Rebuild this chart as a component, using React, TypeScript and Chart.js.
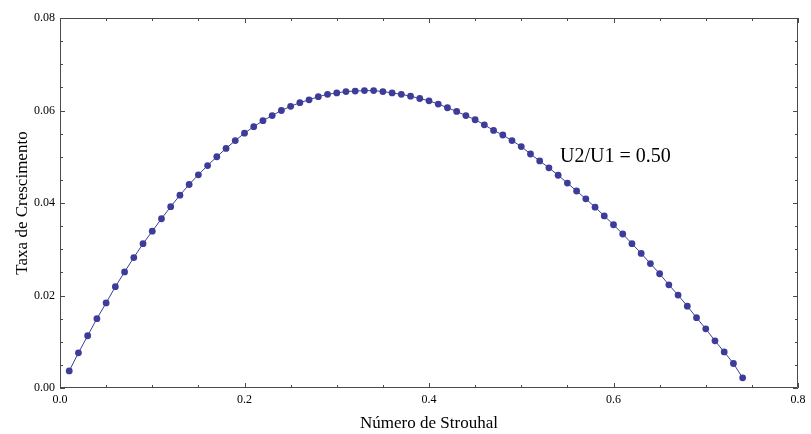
import React, { useEffect, useRef } from "react";
import { Chart, registerables } from "chart.js";

Chart.register(...registerables);

const strouhal = [
  0.01, 0.02, 0.03, 0.04, 0.05, 0.06, 0.07, 0.08, 0.09, 0.1,
  0.11, 0.12, 0.13, 0.14, 0.15, 0.16, 0.17, 0.18, 0.19, 0.2,
  0.21, 0.22, 0.23, 0.24, 0.25, 0.26, 0.27, 0.28, 0.29, 0.3,
  0.31, 0.32, 0.33, 0.34, 0.35, 0.36, 0.37, 0.38, 0.39, 0.4,
  0.41, 0.42, 0.43, 0.44, 0.45, 0.46, 0.47, 0.48, 0.49, 0.5,
  0.51, 0.52, 0.53, 0.54, 0.55, 0.56, 0.57, 0.58, 0.59, 0.6,
  0.61, 0.62, 0.63, 0.64, 0.65, 0.66, 0.67, 0.68, 0.69, 0.7,
  0.71, 0.72, 0.73, 0.74,
];

const growthRate = [
  0.0037, 0.0076, 0.0113, 0.015, 0.0184, 0.0219, 0.0251, 0.0282, 0.0312, 0.0339,
  0.0366, 0.0392, 0.0417, 0.044, 0.0461, 0.0481, 0.05, 0.0518, 0.0535, 0.0551,
  0.0565, 0.0578, 0.0589, 0.06, 0.0609, 0.0617, 0.0623, 0.063, 0.0635, 0.0638,
  0.0641, 0.0642, 0.0643, 0.0643, 0.0641, 0.0638, 0.0635, 0.0631, 0.0626, 0.0621,
  0.0614, 0.0606, 0.0598, 0.0589, 0.058, 0.0569, 0.0557, 0.0547, 0.0535, 0.0522,
  0.0506, 0.0491, 0.0476, 0.046, 0.0443, 0.0426, 0.0409, 0.0391, 0.0372, 0.0353,
  0.0333, 0.0312, 0.0291, 0.0269, 0.0247, 0.0223, 0.0201, 0.0177, 0.0152, 0.0128,
  0.0102, 0.0078, 0.0053, 0.0022,
];

const xMajorTicks = [0, 0.2, 0.4, 0.6, 0.8];
const xTickLabels = ["0.0", "0.2", "0.4", "0.6", "0.8"];
const yMajorTicks = [0, 0.02, 0.04, 0.06, 0.08];
const yTickLabels = ["0.00", "0.02", "0.04", "0.06", "0.08"];
const xMinorStep = 0.05;
const yMinorStep = 0.005;

const xTitle = "Número de Strouhal";
const yTitle = "Taxa de Crescimento";
const annotationText = "U2/U1 = 0.50";
const annotationX = 0.542;
const annotationY = 0.0501;

const SERIF = '"Liberation Serif", "Times New Roman", serif';
const SERIES_COLOR = "#3d3d99";
const FRAME_COLOR = "#4a4a4a";

const framePlugin = {
  id: "frameTicks",
  afterDraw(chart: any) {
    const { ctx, chartArea, scales } = chart;
    const xs = scales.x;
    const ys = scales.y;
    const { left, right, top, bottom } = chartArea;
    ctx.save();
    ctx.strokeStyle = FRAME_COLOR;
    ctx.lineWidth = 1;
    ctx.beginPath();
    ctx.rect(left + 0.5, top + 0.5, right - left - 1, bottom - top - 1);
    ctx.stroke();

    const majorLen = 5;
    const minorLen = 3;
    const isMajor = (v: number, arr: number[]) =>
      arr.some((m) => Math.abs(m - v) < 1e-9);

    ctx.beginPath();
    for (let i = 0; i <= Math.round((xs.max - xs.min) / xMinorStep); i++) {
      const v = xs.min + i * xMinorStep;
      const px = Math.round(xs.getPixelForValue(v)) + 0.5;
      const len = isMajor(v, xMajorTicks) ? majorLen : minorLen;
      ctx.moveTo(px, bottom);
      ctx.lineTo(px, bottom - len);
      ctx.moveTo(px, top);
      ctx.lineTo(px, top + len);
    }
    for (let i = 0; i <= Math.round((ys.max - ys.min) / yMinorStep); i++) {
      const v = ys.min + i * yMinorStep;
      const py = Math.round(ys.getPixelForValue(v)) + 0.5;
      const len = isMajor(v, yMajorTicks) ? majorLen : minorLen;
      ctx.moveTo(left, py);
      ctx.lineTo(left + len, py);
      ctx.moveTo(right, py);
      ctx.lineTo(right - len, py);
    }
    ctx.stroke();

    ctx.fillStyle = "#000";
    ctx.font = `20px ${SERIF}`;
    ctx.textAlign = "left";
    ctx.textBaseline = "middle";
    ctx.fillText(
      annotationText,
      xs.getPixelForValue(annotationX),
      ys.getPixelForValue(annotationY)
    );
    ctx.restore();
  },
};

export default function App() {
  const canvasRef = useRef<HTMLCanvasElement | null>(null);

  useEffect(() => {
    if (!canvasRef.current) return;
    const chart = new Chart(canvasRef.current, {
      type: "scatter",
      data: {
        datasets: [
          {
            data: strouhal.map((x, i) => ({ x, y: growthRate[i] })),
            showLine: true,
            borderColor: SERIES_COLOR,
            backgroundColor: SERIES_COLOR,
            borderWidth: 1,
            pointRadius: 3.4,
            pointBorderWidth: 0,
            pointHoverRadius: 3.4,
          },
        ],
      },
      options: {
        animation: false,
        responsive: false,
        maintainAspectRatio: false,
        layout: { padding: { top: 18, right: 13, left: 0, bottom: 0 } },
        plugins: {
          legend: { display: false },
          tooltip: { enabled: false },
        },
        scales: {
          x: {
            type: "linear",
            min: 0,
            max: 0.8,
            grid: { display: false, drawTicks: false },
            border: { display: false },
            afterBuildTicks: (scale: any) => {
              scale.ticks = xMajorTicks.map((v) => ({ value: v }));
            },
            afterFit: (scale: any) => {
              scale.height = 46;
            },
            ticks: {
              padding: 5,
              color: "#000",
              font: { family: SERIF, size: 12 },
              maxRotation: 0,
              callback: (_v: any, i: number) => xTickLabels[i],
            },
            title: {
              display: true,
              text: xTitle,
              color: "#000",
              font: { family: SERIF, size: 17 },
              padding: { top: 4, bottom: 0 },
            },
          },
          y: {
            type: "linear",
            min: 0,
            max: 0.08,
            grid: { display: false, drawTicks: false },
            border: { display: false },
            afterBuildTicks: (scale: any) => {
              scale.ticks = yMajorTicks.map((v) => ({ value: v }));
            },
            afterFit: (scale: any) => {
              scale.width = 60;
            },
            ticks: {
              padding: 5,
              color: "#000",
              font: { family: SERIF, size: 12 },
              callback: (_v: any, i: number) => yTickLabels[i],
            },
            title: {
              display: true,
              text: yTitle,
              color: "#000",
              font: { family: SERIF, size: 17 },
              padding: { top: 12, bottom: 0 },
            },
          },
        },
      },
      plugins: [framePlugin],
    });
    return () => chart.destroy();
  }, []);

  return (
    <div style={{ position: "absolute", left: 0, top: 0, width: 811, height: 434, background: "#fff" }}>
      <canvas ref={canvasRef} width={811} height={434} style={{ width: 811, height: 434 }} />
    </div>
  );
}
